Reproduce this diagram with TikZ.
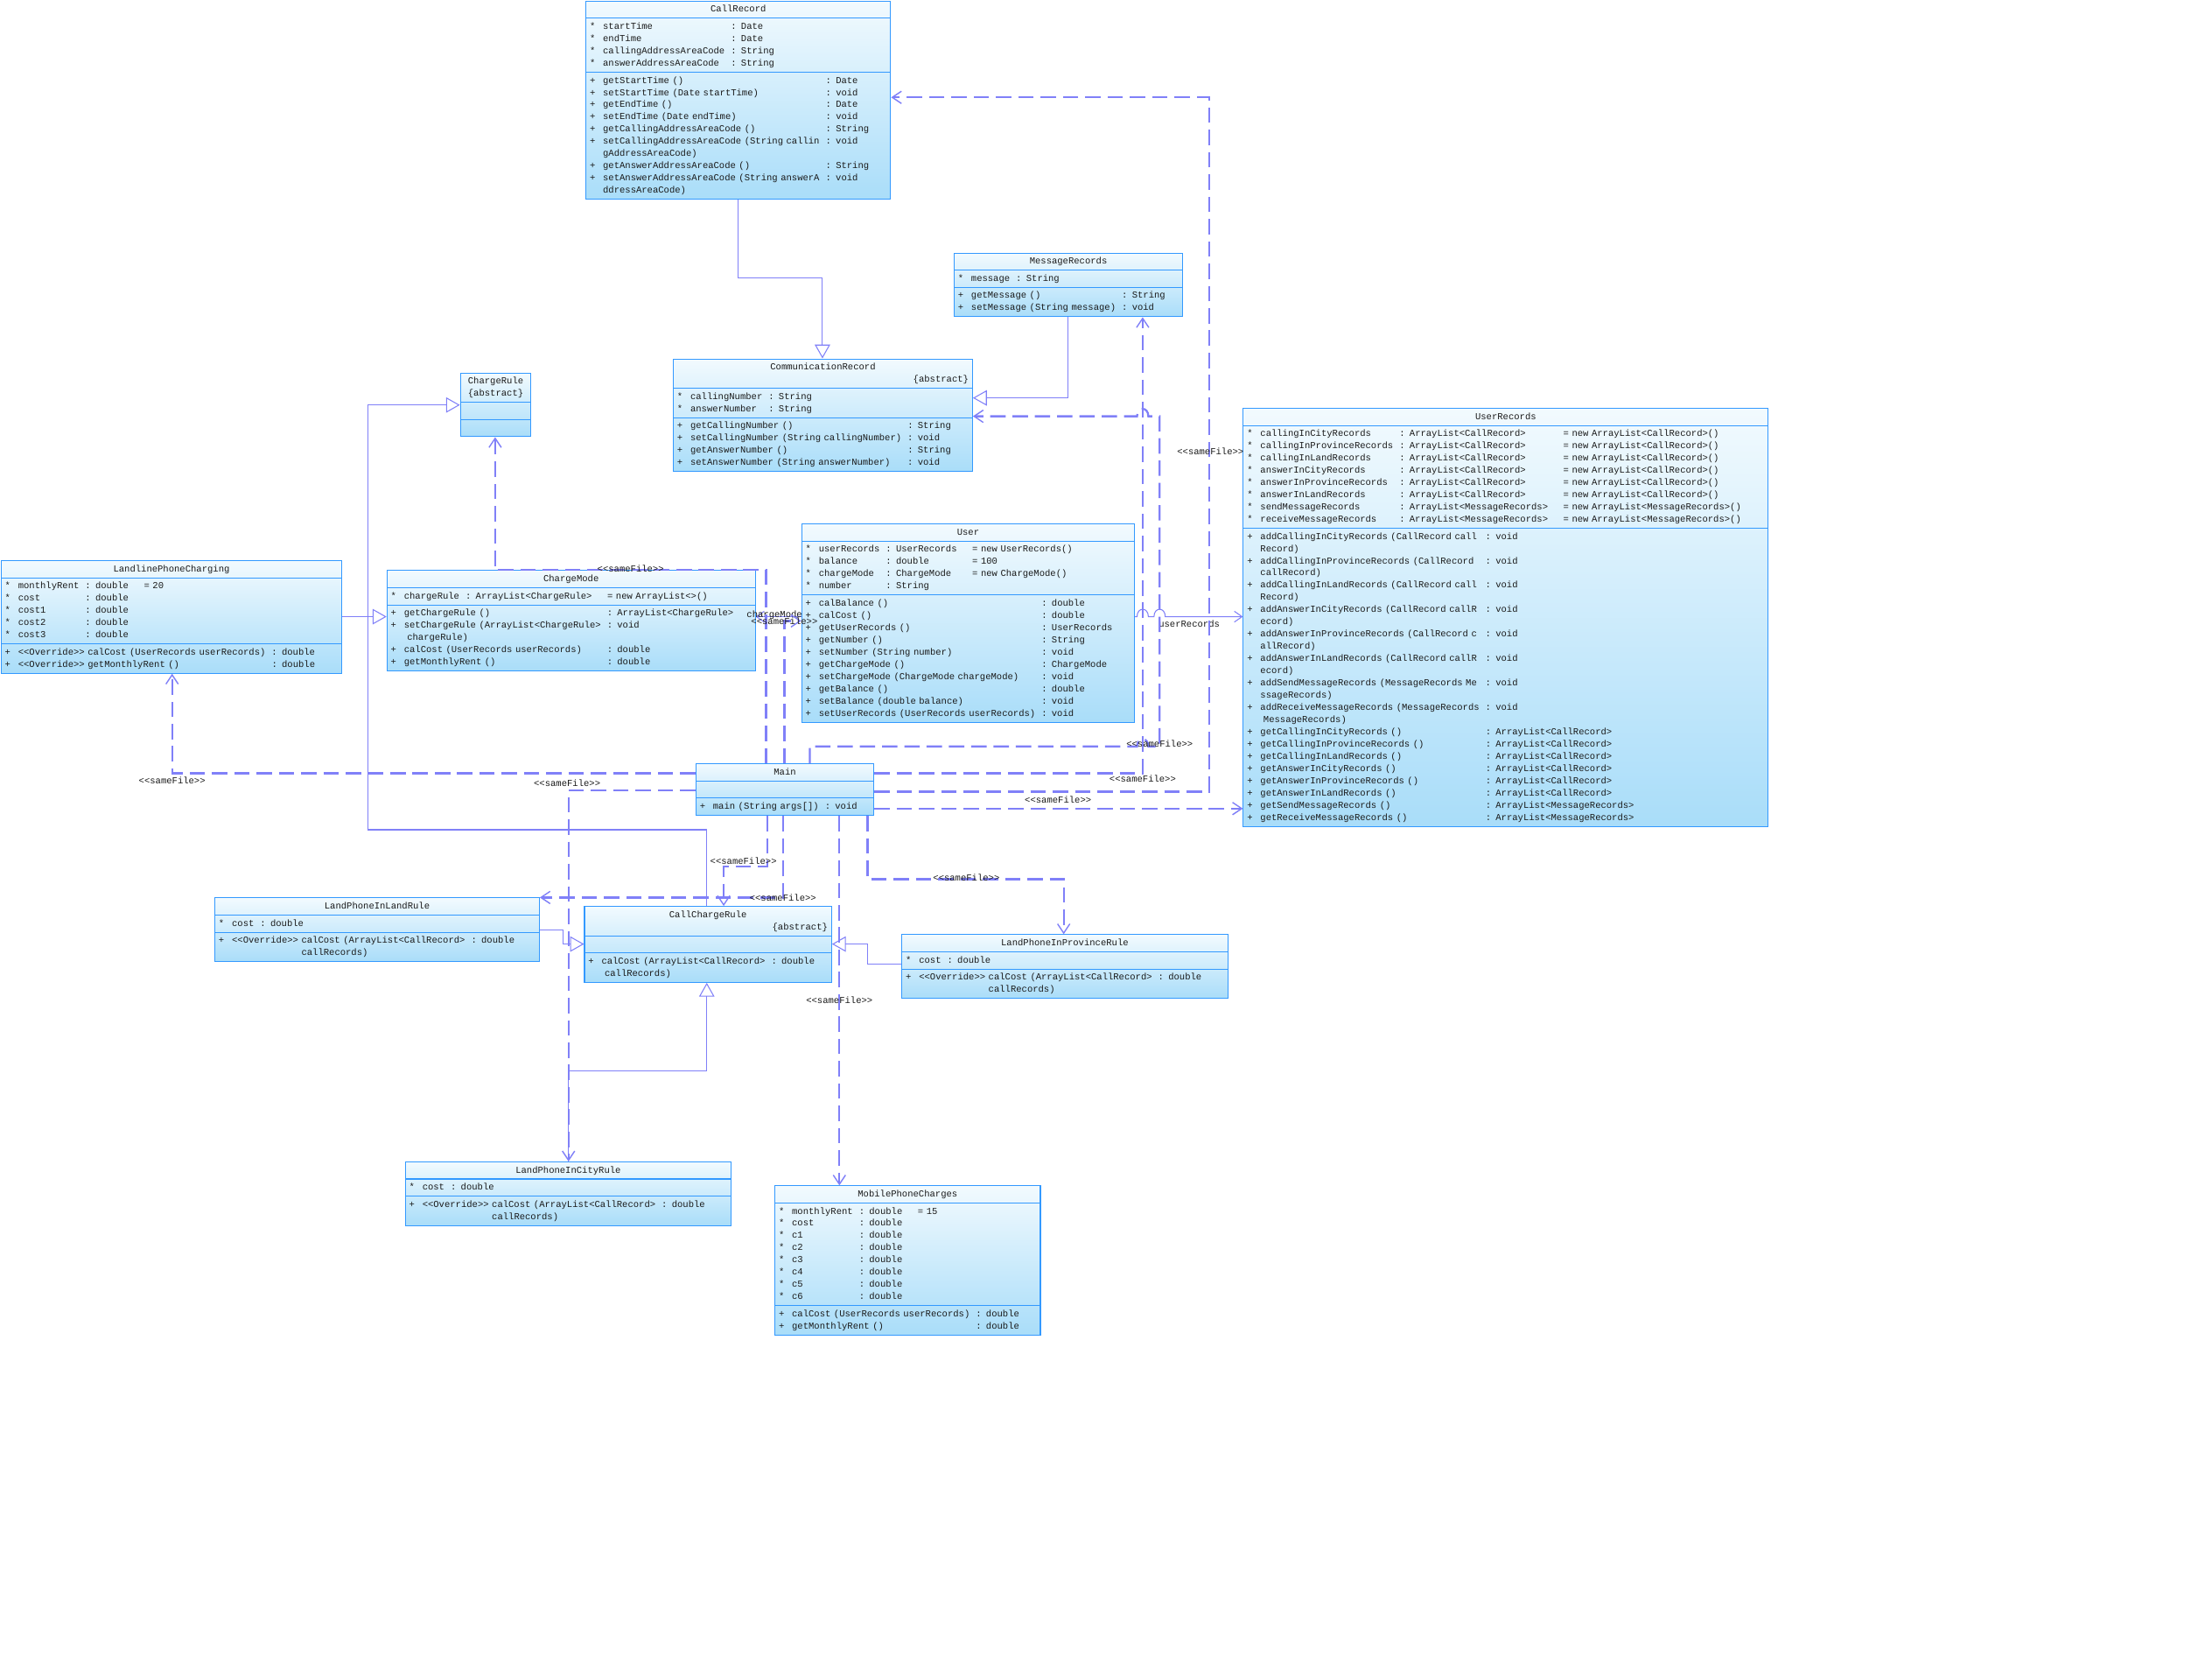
\documentclass[tikz,border=0pt]{standalone}
\usepackage{fontspec}
\usetikzlibrary{shapes.multipart, arrows.meta}
\newfontfamily\umlfont{Liberation Mono}
\definecolor{boxline}{HTML}{3399FF}
\definecolor{boxtop}{HTML}{F2FAFE}
\definecolor{boxbot}{HTML}{A9DDF9}
\definecolor{linkline}{HTML}{8080F8}
\definecolor{umltext}{HTML}{1A1A1A}
\newcommand{\stereo}[1]{<\kern0pt<#1>\kern0pt>}
\newcommand{\ctitle}[1]{\makebox[\linewidth][c]{\strut #1}}
\newcommand{\abst}{\makebox[\linewidth][r]{\strut\{abstract\}}}
\newcommand{\fld}{*}
\newenvironment{members}{\begin{tabular}{@{}l@{\hspace{5pt}}l@{\hspace{4pt}}l@{\hspace{10pt}}l@{}}}{\end{tabular}}

\begin{document}
\begin{tikzpicture}[x=0.032245cm, y=-0.032245cm,
  umlclass/.style={rectangle split, rectangle split parts=3, draw=boxline, line width=0.6pt,
    top color=boxtop, bottom color=boxbot, anchor=north west, inner xsep=2.5pt, inner ysep=1.3pt,
    font=\fontsize{6}{7.95}\umlfont, text=umltext},
  gen/.style={draw=linkline, line width=0.6pt, -{Triangle[open, length=9pt, width=10pt]}},
  assoc/.style={draw=linkline, line width=0.6pt, -{Straight Barb[length=5pt, width=7pt]}},
  dep/.style={draw=linkline, line width=1.3pt, dash pattern=on 10pt off 4.5pt,
    -{Straight Barb[length=6pt, width=8pt, line width=0.8pt]}},
  lbl/.style={font=\fontsize{6}{7.95}\umlfont, text=umltext, inner sep=0pt}]
  \fill[white] (0,0) rectangle (1568,1183);
  \useasboundingbox (0,0) rectangle (1568,1183);

  % --- records ---
  \node[umlclass, text width=6.79cm] (callrec) at (415,0.5) {\ctitle{CallRecord}
    \nodepart{two}\begin{members}
      \fld & startTime & : Date\\
      \fld & endTime & : Date\\
      \fld & callingAddressAreaCode & : String\\
      \fld & answerAddressAreaCode & : String
    \end{members}
    \nodepart{three}\begin{members}
      + & getStartTime () & : Date\\
      + & setStartTime (Date startTime) & : void\\
      + & getEndTime () & : Date\\
      + & setEndTime (Date endTime) & : void\\
      + & getCallingAddressAreaCode () & : String\\
      + & setCallingAddressAreaCode (String callin & : void\\
        & gAddressAreaCode) & \\
      + & getAnswerAddressAreaCode () & : String\\
      + & setAnswerAddressAreaCode (String answerA & : void\\
        & ddressAreaCode) &
    \end{members}};

  \node[umlclass, text width=5.05cm] (msgrec) at (676,179) {\ctitle{MessageRecords}
    \nodepart{two}\begin{members}
      \fld & message & : String
    \end{members}
    \nodepart{three}\begin{members}
      + & getMessage () & : String\\
      + & setMessage (String message) & : void
    \end{members}};

  \node[umlclass, text width=6.66cm] (commrec) at (477,254) {\ctitle{CommunicationRecord}\\\abst
    \nodepart{two}\begin{members}
      \fld & callingNumber & : String\\
      \fld & answerNumber & : String
    \end{members}
    \nodepart{three}\begin{members}
      + & getCallingNumber () & : String\\
      + & setCallingNumber (String callingNumber) & : void\\
      + & getAnswerNumber () & : String\\
      + & setAnswerNumber (String answerNumber) & : void
    \end{members}};

  \node[umlclass, text width=11.82cm] (userrec) at (881,289) {\ctitle{UserRecords}
    \nodepart{two}\begin{members}
      \fld & callingInCityRecords & : ArrayList<CallRecord> & = new ArrayList<CallRecord>()\\
      \fld & callingInProvinceRecords & : ArrayList<CallRecord> & = new ArrayList<CallRecord>()\\
      \fld & callingInLandRecords & : ArrayList<CallRecord> & = new ArrayList<CallRecord>()\\
      \fld & answerInCityRecords & : ArrayList<CallRecord> & = new ArrayList<CallRecord>()\\
      \fld & answerInProvinceRecords & : ArrayList<CallRecord> & = new ArrayList<CallRecord>()\\
      \fld & answerInLandRecords & : ArrayList<CallRecord> & = new ArrayList<CallRecord>()\\
      \fld & sendMessageRecords & : ArrayList<MessageRecords> & = new ArrayList<MessageRecords>()\\
      \fld & receiveMessageRecords & : ArrayList<MessageRecords> & = new ArrayList<MessageRecords>()
    \end{members}
    \nodepart{three}\begin{members}
      + & addCallingInCityRecords (CallRecord call & : void\\
        & Record) & \\
      + & addCallingInProvinceRecords (CallRecord & : void\\
        & callRecord) & \\
      + & addCallingInLandRecords (CallRecord call & : void\\
        & Record) & \\
      + & addAnswerInCityRecords (CallRecord callR & : void\\
        & ecord) & \\
      + & addAnswerInProvinceRecords (CallRecord c & : void\\
        & allRecord) & \\
      + & addAnswerInLandRecords (CallRecord callR & : void\\
        & ecord) & \\
      + & addSendMessageRecords (MessageRecords Me & : void\\
        & ssageRecords) & \\
      + & addReceiveMessageRecords (MessageRecords & : void\\
        & \ MessageRecords) & \\
      + & getCallingInCityRecords () & : ArrayList<CallRecord>\\
      + & getCallingInProvinceRecords () & : ArrayList<CallRecord>\\
      + & getCallingInLandRecords () & : ArrayList<CallRecord>\\
      + & getAnswerInCityRecords () & : ArrayList<CallRecord>\\
      + & getAnswerInProvinceRecords () & : ArrayList<CallRecord>\\
      + & getAnswerInLandRecords () & : ArrayList<CallRecord>\\
      + & getSendMessageRecords () & : ArrayList<MessageRecords>\\
      + & getReceiveMessageRecords () & : ArrayList<MessageRecords>
    \end{members}};

  % --- charging ---
  \node[umlclass, text width=1.44cm] (chargerule) at (326,264) {\ctitle{ChargeRule}\\\ctitle{\{abstract\}}
    \nodepart{two}\strut
    \nodepart{three}\strut};

  \node[umlclass, text width=7.61cm] (landline) at (0.5,397) {\ctitle{LandlinePhoneCharging}
    \nodepart{two}\begin{members}
      \fld & monthlyRent & : double & = 20\\
      \fld & cost & : double\\
      \fld & cost1 & : double\\
      \fld & cost2 & : double\\
      \fld & cost3 & : double
    \end{members}
    \nodepart{three}\begin{members}
      + & \stereo{Override} calCost (UserRecords userRecords) & : double\\
      + & \stereo{Override} getMonthlyRent () & : double
    \end{members}};

  \node[umlclass, text width=8.24cm] (chargemode) at (274,404) {\ctitle{ChargeMode}
    \nodepart{two}\begin{members}
      \fld & chargeRule & : ArrayList<ChargeRule> & = new ArrayList<>()
    \end{members}
    \nodepart{three}\begin{members}
      + & getChargeRule () & : ArrayList<ChargeRule>\\
      + & setChargeRule (ArrayList<ChargeRule> & : void\\
        & \ chargeRule) & \\
      + & calCost (UserRecords userRecords) & : double\\
      + & getMonthlyRent () & : double
    \end{members}};

  \node[umlclass, text width=7.43cm] (user) at (568,371) {\ctitle{User}
    \nodepart{two}\begin{members}
      \fld & userRecords & : UserRecords & = new UserRecords()\\
      \fld & balance & : double & = 100\\
      \fld & chargeMode & : ChargeMode & = new ChargeMode()\\
      \fld & number & : String
    \end{members}
    \nodepart{three}\begin{members}
      + & calBalance () & : double\\
      + & calCost () & : double\\
      + & getUserRecords () & : UserRecords\\
      + & getNumber () & : String\\
      + & setNumber (String number) & : void\\
      + & getChargeMode () & : ChargeMode\\
      + & setChargeMode (ChargeMode chargeMode) & : void\\
      + & getBalance () & : double\\
      + & setBalance (double balance) & : void\\
      + & setUserRecords (UserRecords userRecords) & : void
    \end{members}};

  \node[umlclass, text width=3.89cm] (main) at (493,541) {\ctitle{Main}
    \nodepart{two}\strut
    \nodepart{three}\begin{members}
      + & main (String args[]) & : void
    \end{members}};

  % --- call rules ---
  \node[umlclass, text width=7.24cm] (inland) at (152,636) {\ctitle{LandPhoneInLandRule}
    \nodepart{two}\begin{members}
      \fld & cost & : double
    \end{members}
    \nodepart{three}\begin{members}
      + & \stereo{Override} calCost (ArrayList<CallRecord> & : double\\
        & \hphantom{\stereo{Override}\ }callRecords) &
    \end{members}};

  \node[umlclass, text width=5.47cm] (callcharge) at (414,642) {\ctitle{CallChargeRule}\\\abst
    \nodepart{two}\strut
    \nodepart{three}\begin{members}
      + & calCost (ArrayList<CallRecord> & : double\\
        & \ callRecords) &
    \end{members}};

  \node[umlclass, text width=7.27cm] (inprov) at (639,662) {\ctitle{LandPhoneInProvinceRule}
    \nodepart{two}\begin{members}
      \fld & cost & : double
    \end{members}
    \nodepart{three}\begin{members}
      + & \stereo{Override} calCost (ArrayList<CallRecord> & : double\\
        & \hphantom{\stereo{Override}\ }callRecords) &
    \end{members}};

  \node[umlclass, text width=7.27cm] (incity) at (287,823) {\ctitle{LandPhoneInCityRule}
    \nodepart{two}\begin{members}
      \fld & cost & : double
    \end{members}
    \nodepart{three}\begin{members}
      + & \stereo{Override} calCost (ArrayList<CallRecord> & : double\\
        & \hphantom{\stereo{Override}\ }callRecords) &
    \end{members}};

  \node[umlclass, text width=5.89cm] (mobile) at (549,840) {\ctitle{MobilePhoneCharges}
    \nodepart{two}\begin{members}
      \fld & monthlyRent & : double & = 15\\
      \fld & cost & : double\\
      \fld & c1 & : double\\
      \fld & c2 & : double\\
      \fld & c3 & : double\\
      \fld & c4 & : double\\
      \fld & c5 & : double\\
      \fld & c6 & : double
    \end{members}
    \nodepart{three}\begin{members}
      + & calCost (UserRecords userRecords) & : double\\
      + & getMonthlyRent () & : double
    \end{members}};

  % --- generalizations ---
  \draw[gen] (callrec.south -| 523,0) -- (523,197) -- (583,197) -- (commrec.north -| 583,0);
  \draw[gen] (msgrec.south -| 757,0) -- (757,282) -- (commrec.east |- 0,282);
  \draw[gen] (landline.east |- 0,437) -- (chargemode.west |- 0,437);
  \draw[gen] (callcharge.north -| 501,0) -- (501,588) -- (261,588) -- (261,287) -- (chargerule.west |- 0,287);
  \draw[gen] (inland.east |- 0,659) -- (399,659) -- (399,669) -- (callcharge.west |- 0,669);
  \draw[gen] (inprov.west |- 0,683) -- (615,683) -- (615,669) -- (callcharge.east |- 0,669);
  \draw[gen] (incity.north -| 403,0) -- (403,759) -- (501,759) -- (callcharge.south -| 501,0);

  % --- associations ---
  \draw[assoc] (user.east |- 0,437) -- (806,437) .. controls (806,430) and (814,430) .. (814,437)
    -- (818,437) .. controls (818,430) and (826,430) .. (826,437) -- (userrec.west |- 0,437);
  \draw[assoc] (user.west |- 0,437) -- (chargemode.east |- 0,437);
  \node[lbl] (roleuserrec) at (843,442) {userRecords};
  \node[lbl] (rolemode) at (549,436) {chargeMode};

  % --- sameFile dependencies of Main ---
  \draw[dep] (main.west |- 0,548) -- (122,548) -- (landline.south -| 122,0);
  \draw[dep] (main.west |- 0,560) -- (403,560) -- (incity.north -| 403,0);
  \draw[dep] (main.north -| 543,0) -- (543,404) -- (351,404) -- (chargerule.south -| 351,0);
  \draw[dep] (main.north -| 556,0) -- (556,440) -- (user.west |- 0,440);
  \draw[dep] (main.north -| 574,0) -- (574,529) -- (806,529) .. controls (806,522) and (814,522) .. (814,529)
    -- (822,529) -- (822,295) -- (814,295) .. controls (814,288) and (806,288) .. (806,295)
    -- (commrec.east |- 0,295);
  \draw[dep] (main.east |- 0,548) -- (810,548) -- (msgrec.south -| 810,0);
  \draw[dep] (main.east |- 0,561) -- (857,561) -- (857,69) -- (callrec.east |- 0,69);
  \draw[dep] (main.east |- 0,573) -- (userrec.west |- 0,573);
  \draw[dep] (main.south -| 544,0) -- (544,614) -- (513,614) -- (callcharge.north -| 513,0);
  \draw[dep] (main.south -| 555,0) -- (555,636) -- (inland.east |- 0,636);
  \draw[dep] (main.south -| 595,0) -- (mobile.north -| 595,0);
  \draw[dep] (main.south -| 615,0) -- (615,623) -- (754,623) -- (inprov.north -| 754,0);

  \node[lbl] (sf1) at (122,553) {\stereo{sameFile}};
  \node[lbl] (sf2) at (402,555) {\stereo{sameFile}};
  \node[lbl] (sf3) at (447,403) {\stereo{sameFile}};
  \node[lbl] (sf4) at (556,440) {\stereo{sameFile}};
  \node[lbl] (sf5) at (822,527) {\stereo{sameFile}};
  \node[lbl] (sf6) at (810,552) {\stereo{sameFile}};
  \node[lbl] (sf7) at (858,320) {\stereo{sameFile}};
  \node[lbl] (sf8) at (750,567) {\stereo{sameFile}};
  \node[lbl] (sf9) at (527,610) {\stereo{sameFile}};
  \node[lbl] (sf10) at (555,636) {\stereo{sameFile}};
  \node[lbl] (sf11) at (595,709) {\stereo{sameFile}};
  \node[lbl] (sf12) at (685,622) {\stereo{sameFile}};
\end{tikzpicture}
\end{document}
